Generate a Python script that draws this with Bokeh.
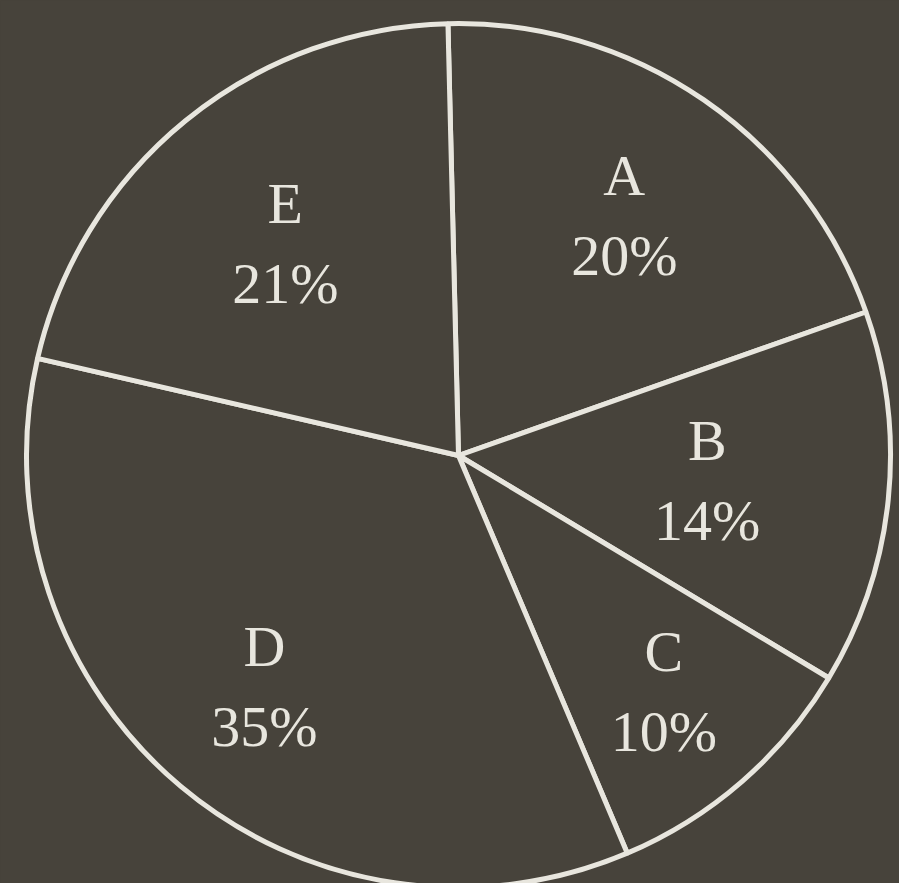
import numpy as np
from bokeh.plotting import figure
from bokeh.models import ColumnDataSource, Range1d
from bokeh.core.properties import value
from bokeh.embed import file_html
from bokeh.resources import INLINE

# data
categories = ["A", "B", "C", "D", "E"]
shares = [20, 14, 10, 35, 21]

# layout (label distance from centre, in pixels)
label_radius = [292, 250, 313, 302, 274]

W, H = 899, 883
BG = "#47433b"
FG = "#e8e6de"

cx, cy, R = 458, H - 455, 432
start_deg = 91.4

vals = np.array(shares, dtype=float)
frac = vals / vals.sum()
cum = np.concatenate([[0], np.cumsum(frac)])
starts = np.deg2rad(start_deg) - 2 * np.pi * cum[:-1]
ends = np.deg2rad(start_deg) - 2 * np.pi * cum[1:]
mids = (starts + ends) / 2
lr = np.array(label_radius, dtype=float)

src = ColumnDataSource(dict(
    x=[cx] * len(categories), y=[cy] * len(categories),
    start=starts, end=ends,
    lx=cx + lr * np.cos(mids), ly=cy + lr * np.sin(mids),
    name=categories, pct=[f"{v}%" for v in shares],
))

p = figure(width=W, height=H, x_range=Range1d(0, W), y_range=Range1d(0, H),
           output_backend="svg", toolbar_location=None,
           x_axis_type=None, y_axis_type=None, min_border=0,
           background_fill_color=BG, border_fill_color=BG,
           outline_line_color=None)
p.grid.visible = False

p.wedge(x="x", y="y", radius=R, start_angle="start", end_angle="end",
        direction="clock", source=src, fill_color=BG,
        line_color=FG, line_width=5)

p.text(x="lx", y="ly", text="name", source=src, y_offset=-40,
       text_font=value("Liberation Serif"), text_font_size="58px",
       text_color=FG, text_align="center", text_baseline="middle")
p.text(x="lx", y="ly", text="pct", source=src, y_offset=40,
       text_font=value("Liberation Serif"), text_font_size="58px",
       text_color=FG, text_align="center", text_baseline="middle")

html = file_html(p, INLINE)
html = html.replace("<head>", "<head><style>body{background-color:%s;}</style>" % BG, 1)
open("out.html", "w").write(html)
